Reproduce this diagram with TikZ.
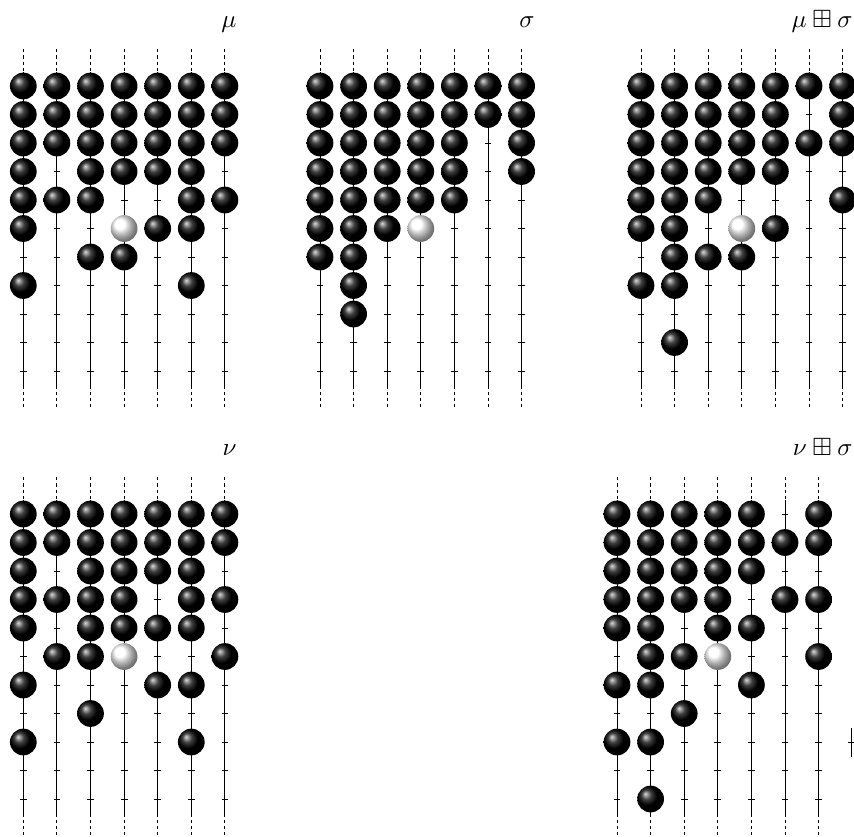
\documentclass[tikz,border=0pt]{standalone}
\usepackage{amssymb}
\usetikzlibrary{positioning}

% one abacus: #1 name, #2 x of first runner, #3 y of top row, #4 column/rows of beads
\newcommand{\abacus}[4]{%
  \foreach \c in {0,...,6}{
    \draw[runner] (#2+\c*33.6, #3-14.25) -- (#2+\c*33.6, #3+299.25);
    \draw[ends] (#2+\c*33.6, #3-37) -- (#2+\c*33.6, #3-14.25);
    \draw[ends] (#2+\c*33.6, #3+299.25) -- (#2+\c*33.6, #3+322);
    \foreach \r in {0,...,10}
      \draw[tick] (#2+\c*33.6-3.4, #3+\r*28.5) -- ++(6.8,0);
  }
  \foreach \c/\rows in {#4}
    \foreach \r in \rows
      \node[bead] (#1-\c-\r) at (#2+\c*33.6-33.6, #3+\r*28.5) {};
  \node[hole] (#1-hole) at (#2+3*33.6, #3+5*28.5) {};
}

\begin{document}
\begin{tikzpicture}[
  x=0.4pt, y=-0.4pt,
  font=\normalsize,
  runner/.style={line width=0.4pt},
  ends/.style={line width=0.4pt, dash pattern=on 1.3pt off 1.2pt},
  tick/.style={line width=0.4pt},
  bead/.style={circle, inner sep=0pt, minimum size=10.7pt, shading=ball, ball color=black},
  hole/.style={bead, ball color=white},
  lbl/.style={anchor=base east, inner sep=0pt}
]
\useasboundingbox (0,0) rectangle (854,836);

% top row
\abacus{mu}{23.3}{86}{1/{0,1,2,3,4,5,7}, 2/{0,1,2,4}, 3/{0,1,2,3,4,6}, 4/{0,1,2,3,6},
  5/{0,1,2,3,5}, 6/{0,1,2,3,4,5,7}, 7/{0,1,2,4}}
\abacus{sg}{320}{86}{1/{0,1,2,3,4,5,6}, 2/{0,1,2,3,4,5,6,7,8}, 3/{0,1,2,3,4,5},
  4/{0,1,2,3,4}, 5/{0,1,2,3,4}, 6/{0,1}, 7/{0,1,2,3}}
\abacus{musg}{641}{86}{1/{0,1,2,3,4,5,7}, 2/{0,1,2,3,4,5,6,7,9}, 3/{0,1,2,3,4,6},
  4/{0,1,2,3,6}, 5/{0,1,2,3,5}, 6/{0,2}, 7/{0,1,2,4}}

% bottom row
\abacus{nu}{23.3}{514}{1/{0,1,2,3,4,6,8}, 2/{0,1,3,5}, 3/{0,1,2,3,4,5,7}, 4/{0,1,2,3,4},
  5/{0,1,2,4,6}, 6/{0,1,2,3,4,6,8}, 7/{0,1,3,5}}
\abacus{nusg}{617}{514}{1/{0,1,2,3,4,6,8}, 2/{0,1,2,3,4,5,6,8,10}, 3/{0,1,2,3,5,7},
  4/{0,1,2,3,4}, 5/{0,1,2,4,6}, 6/{1,3}, 7/{0,1,3,5}}

% stub at the right edge
\draw[runner] (851.7, 728) -- (851.7, 757);
\draw[tick] (848.3, 742.3) -- ++(6.8,0);

\node[lbl] (lmu) at (237, 27.5) {$\mu$};
\node[lbl] (lsg) at (535, 27.5) {$\sigma$};
\node[lbl] (lmusg) at (853, 27.5) {$\mu \boxplus \sigma$};
\node[lbl] (lnu) at (237, 455) {$\nu$};
\node[lbl] (lnusg) at (853, 455) {$\nu \boxplus \sigma$};
\end{tikzpicture}
\end{document}
